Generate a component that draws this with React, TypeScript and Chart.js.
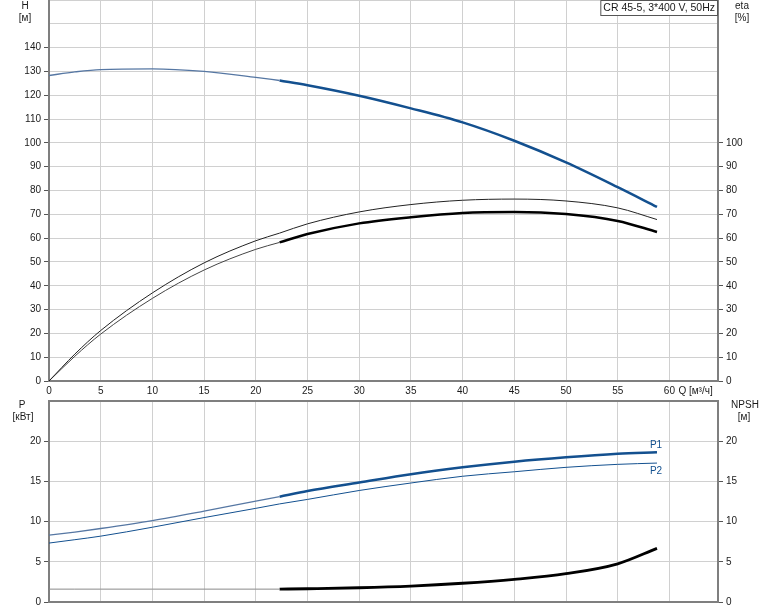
import React, { useEffect, useRef } from 'react';
import { Chart, registerables } from 'chart.js';

Chart.register(...registerables);

// ---- data ----
const flow = [0, 2.5, 5, 10, 15, 20, 22.3, 25, 30, 35, 40, 45, 50, 55, 58.8];
const headH = [128.3, 129.8, 130.8, 131.1, 130.0, 127.5, 126.2, 124.2, 119.8, 114.5, 108.6, 100.9, 91.8, 81.4, 73.1];
const etaUpper = [0, 11.3, 21.2, 37.0, 49.6, 58.9, 62.1, 66.0, 71.0, 74.1, 75.9, 76.4, 75.6, 72.7, 67.8];
const etaLower = [0, 10.4, 19.7, 34.7, 46.6, 55.3, 58.2, 61.7, 66.2, 68.8, 70.6, 71.0, 70.1, 67.2, 62.6];
const powerP1 = [8.31, 8.7, 9.14, 10.12, 11.3, 12.55, 13.1, 13.8, 14.86, 15.9, 16.75, 17.45, 18.0, 18.44, 18.64];
const powerP2 = [7.33, 7.75, 8.19, 9.3, 10.5, 11.65, 12.2, 12.76, 13.87, 14.8, 15.64, 16.2, 16.75, 17.12, 17.28];
const npsh = [1.6, 1.6, 1.6, 1.6, 1.6, 1.6, 1.6, 1.65, 1.77, 1.98, 2.33, 2.82, 3.52, 4.75, 6.67];
const splitIndex = 6; // thick part starts at flow[6]

const xTickLabels = ['0', '5', '10', '15', '20', '25', '30', '35', '40', '45', '50', '55', '60'];
const legendText = 'CR 45-5, 3*400 V, 50Hz';
const flowUnit = 'Q [м³/ч]';

const FONT = '"Liberation Sans", Arial, sans-serif';
const TEXT = '#1a1a1a';
const GRID = '#d0d0d0';
const AXIS = '#7f7f7f';
const BLUE = '#13508f';
const BLUE_THIN = '#5677a3';

const pts = (arr: number[], from: number, to: number) =>
  flow.slice(from, to).map((q, i) => ({ x: q, y: arr[from + i] }));

const line = (data: any[], color: string, width: number, yAxisID: string) => ({
  data,
  borderColor: color,
  borderWidth: width,
  pointRadius: 0,
  fill: false,
  cubicInterpolationMode: 'monotone' as const,
  yAxisID,
});

const xScale = (height: number, showLabels: boolean) => ({
  type: 'linear' as const,
  min: 0,
  max: 64.7,
  ticks: {
    stepSize: 5,
    includeBounds: false,
    display: showLabels,
    autoSkip: false,
    maxRotation: 0,
    padding: 4,
    color: TEXT,
    font: { family: FONT, size: 10 },
    callback: (v: number) => xTickLabels[Math.round(v / 5)] ?? '',
  },
  grid: { color: GRID, drawTicks: false, lineWidth: 1 },
  border: { color: AXIS, width: 2 },
  afterFit: (s: any) => {
    s.height = height;
    s.paddingLeft = 0;
    s.paddingRight = 0;
  },
});

const yScale = (pos: 'left' | 'right', max: number, step: number, labelMax: number, width: number, grid: boolean) => ({
  type: 'linear' as const,
  position: pos,
  min: 0,
  max,
  ticks: {
    stepSize: step,
    padding: 3,
    color: TEXT,
    font: { family: FONT, size: 10 },
    callback: (v: number) => (v <= labelMax ? String(v) : ''),
  },
  grid: {
    color: GRID,
    drawOnChartArea: grid,
    tickLength: 5,
    tickColor: (ctx: any) => (ctx.tick && ctx.tick.value <= labelMax ? '#555' : 'rgba(0,0,0,0)'),
  },
  border: { color: AXIS, width: 2 },
  afterFit: (s: any) => {
    s.width = width;
    s.paddingTop = 0;
    s.paddingBottom = 0;
  },
});

const textPlugin = (draw: (chart: any, ctx: CanvasRenderingContext2D) => void) => ({
  id: 'texts' + Math.random().toString(36).slice(2),
  afterDraw(chart: any) {
    const ctx = chart.ctx as CanvasRenderingContext2D;
    ctx.save();
    draw(chart, ctx);
    ctx.restore();
  },
});

function TopChart() {
  const ref = useRef<HTMLCanvasElement>(null);
  useEffect(() => {
    const chart = new Chart(ref.current!, {
      type: 'line',
      data: {
        datasets: [
          line(pts(headH, 0, splitIndex + 1), BLUE_THIN, 1.3, 'y'),
          line(pts(headH, splitIndex, flow.length), BLUE, 2.5, 'y'),
          line(pts(etaUpper, 0, flow.length), '#222', 1, 'y2'),
          line(pts(etaLower, 0, splitIndex + 1), '#444', 1, 'y2'),
          line(pts(etaLower, splitIndex, flow.length), '#000', 2.5, 'y2'),
        ],
      },
      options: {
        animation: false,
        responsive: false,
        devicePixelRatio: 1,
        events: [],
        layout: { padding: 0, autoPadding: false },
        plugins: { legend: { display: false }, tooltip: { enabled: false } },
        scales: {
          x: xScale(16, true),
          y: yScale('left', 160, 10, 140, 49, true),
          y2: yScale('right', 160, 10, 100, 56, false),
        },
      },
      plugins: [
        textPlugin((c, ctx) => {
          ctx.fillStyle = TEXT;
          ctx.font = `10px ${FONT}`;
          ctx.textAlign = 'center';
          ctx.textBaseline = 'middle';
          ctx.fillText('H', 25, 6);
          ctx.fillText('[м]', 25, 18);
          ctx.fillText('eta', 742, 6);
          ctx.fillText('[%]', 742, 18);
          const xs = c.scales.x;
          ctx.textAlign = 'left';
          ctx.fillText(flowUnit, xs.getPixelForValue(60) + 9, c.chartArea.bottom + 10);
          // legend box
          const right = c.chartArea.right;
          ctx.font = `10.5px ${FONT}`;
          const w = ctx.measureText(legendText).width + 6;
          ctx.fillStyle = '#fff';
          ctx.fillRect(right - w, 0, w, 15);
          ctx.strokeStyle = '#555';
          ctx.lineWidth = 1;
          ctx.strokeRect(right - w + 0.5, 0.5, w - 1, 15);
          ctx.fillStyle = TEXT;
          ctx.fillText(legendText, right - w + 3, 8);
        }),
      ],
    });
    return () => chart.destroy();
  }, []);
  return <canvas ref={ref} width={774} height={397} style={{ position: 'absolute', left: 0, top: 0, width: 774, height: 397 }} />;
}

function BottomChart() {
  const ref = useRef<HTMLCanvasElement>(null);
  useEffect(() => {
    const chart = new Chart(ref.current!, {
      type: 'line',
      data: {
        datasets: [
          line(pts(powerP1, 0, splitIndex + 1), BLUE_THIN, 1.3, 'y'),
          line(pts(powerP1, splitIndex, flow.length), BLUE, 2.5, 'y'),
          line(pts(powerP2, 0, flow.length), BLUE, 1, 'y'),
          line(pts(npsh, 0, splitIndex + 1), '#8a8a8a', 1, 'y2'),
          line(pts(npsh, splitIndex, flow.length), '#000', 2.8, 'y2'),
        ],
      },
      options: {
        animation: false,
        responsive: false,
        devicePixelRatio: 1,
        events: [],
        layout: { padding: { top: 4, left: 0, right: 0, bottom: 0 }, autoPadding: false },
        plugins: { legend: { display: false }, tooltip: { enabled: false } },
        scales: {
          x: xScale(9, false),
          y: yScale('left', 25, 5, 20, 49, true),
          y2: yScale('right', 25, 5, 20, 56, false),
        },
      },
      plugins: [
        textPlugin((c, ctx) => {
          const a = c.chartArea;
          ctx.strokeStyle = AXIS;
          ctx.lineWidth = 2;
          ctx.beginPath();
          ctx.moveTo(a.left, a.top);
          ctx.lineTo(a.right, a.top);
          ctx.stroke();
          ctx.fillStyle = TEXT;
          ctx.font = `10px ${FONT}`;
          ctx.textAlign = 'center';
          ctx.textBaseline = 'middle';
          ctx.fillText('P', 22, 8);
          ctx.fillText('[кВт]', 23, 20);
          ctx.fillText('NPSH', 745, 8);
          ctx.fillText('[м]', 744, 20);
          const xs = c.scales.x;
          const ys = c.scales.y;
          const last = flow.length - 1;
          const ex = xs.getPixelForValue(flow[last]);
          ctx.fillStyle = BLUE;
          ctx.fillText('P1', ex - 1, ys.getPixelForValue(powerP1[last]) - 7);
          ctx.fillText('P2', ex - 1, ys.getPixelForValue(powerP2[last]) + 8);
        }),
      ],
    });
    return () => chart.destroy();
  }, []);
  return <canvas ref={ref} width={774} height={214} style={{ position: 'absolute', left: 0, top: 397, width: 774, height: 214 }} />;
}

export default function App() {
  return (
    <div style={{ position: 'absolute', left: 0, top: 0, width: 774, height: 611, background: '#fff' }}>
      <TopChart />
      <BottomChart />
    </div>
  );
}
